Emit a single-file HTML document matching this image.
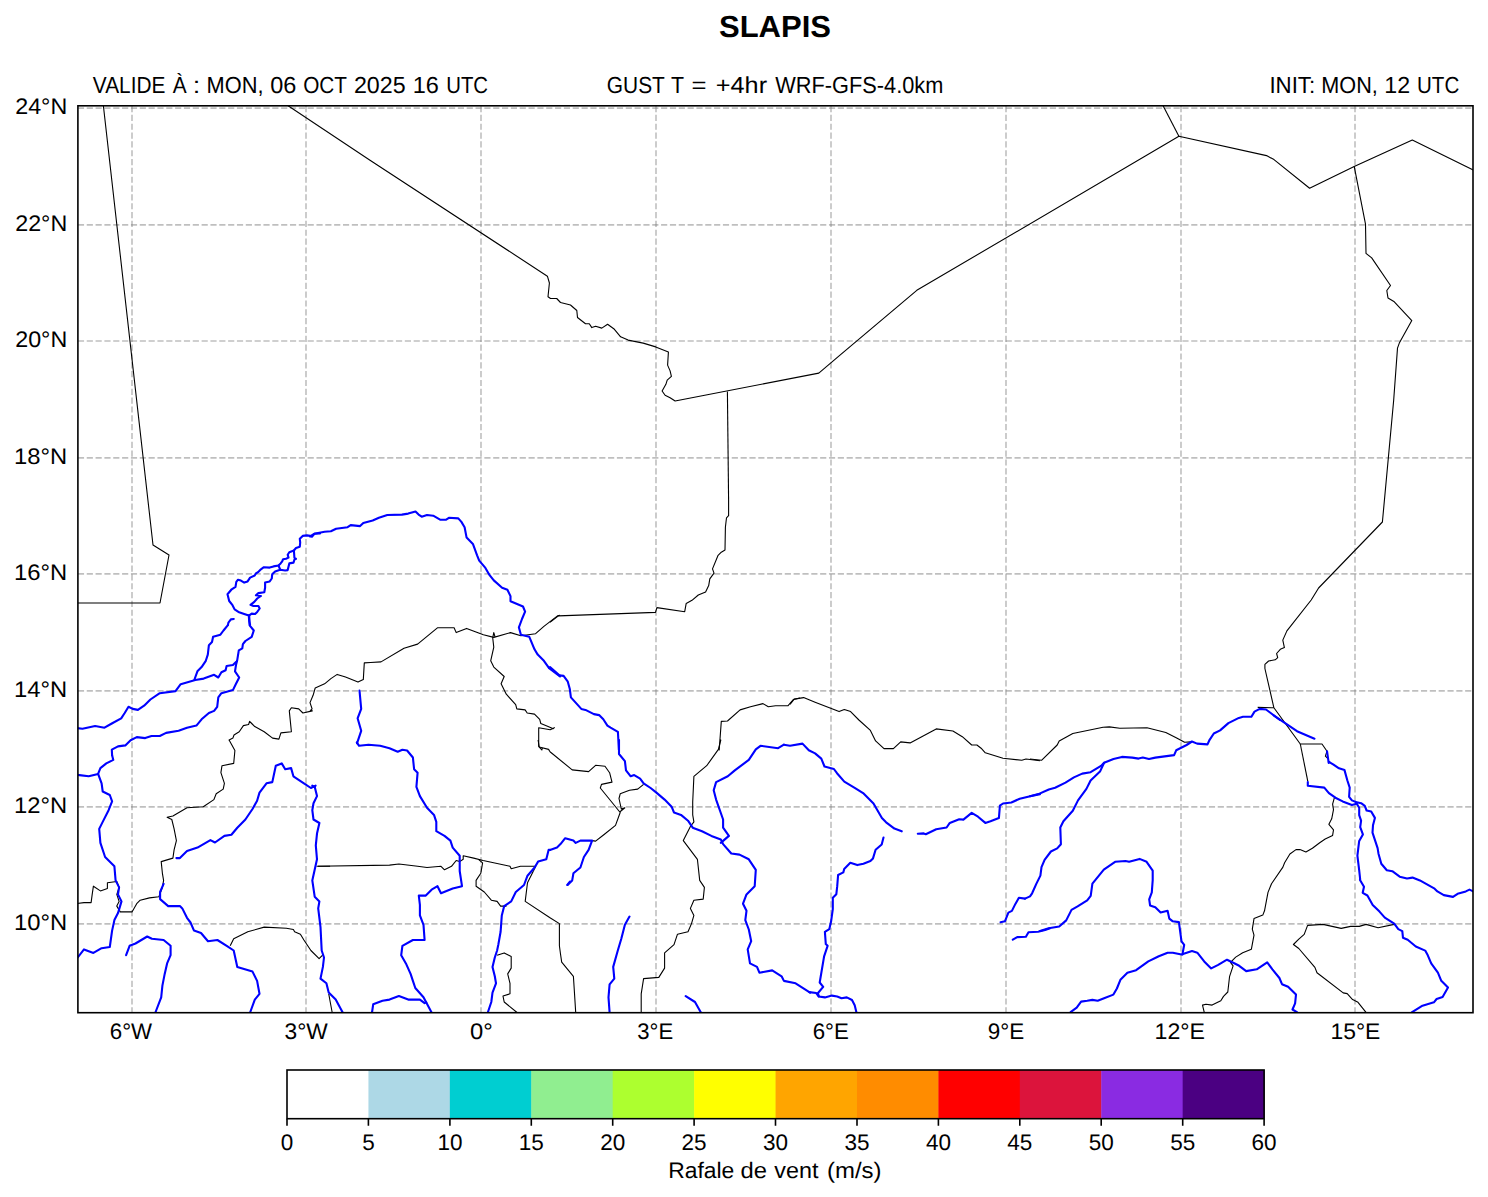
<!DOCTYPE html>
<html><head><meta charset="utf-8"><title>SLAPIS</title>
<style>html,body{margin:0;padding:0;background:#fff;width:1488px;height:1197px;overflow:hidden}</style>
</head><body>
<svg width="1488" height="1197" viewBox="0 0 1488 1197" style="display:block">
<rect width="1488" height="1197" fill="#fff"/>
<defs><clipPath id="c"><rect x="77.9" y="105.8" width="1395.1" height="906.9000000000001"/></clipPath></defs>
<g clip-path="url(#c)">
<path d="M132.00 106.0V1012.7M306.00 106.0V1012.7M481.00 106.0V1012.7M656.00 106.0V1012.7M831.00 106.0V1012.7M1006.00 106.0V1012.7M1181.00 106.0V1012.7M1355.00 106.0V1012.7" stroke="#808080" stroke-opacity="0.5" stroke-width="1.6" stroke-dasharray="6.16 2.676" fill="none"/>
<path d="M77.9 108.10H1473.0M77.9 224.90H1473.0M77.9 341.00H1473.0M77.9 457.90H1473.0M77.9 573.90H1473.0M77.9 690.90H1473.0M77.9 806.90H1473.0M77.9 923.90H1473.0" stroke="#808080" stroke-opacity="0.5" stroke-width="1.6" stroke-dasharray="6.16 2.676" fill="none"/>
<path d="M103.3,105.0 153.0,545.0 169.0,555.0 160.0,603.0 77.0,603.0" stroke="#000" stroke-width="1.1" fill="none" stroke-linejoin="round"/>
<path d="M287.0,105.0 370.0,160.2 547.4,276.2 549.4,283.0 548.0,296.7 550.5,298.5 556.7,298.5 560.5,302.5 570.5,305.0 576.8,310.5 577.5,317.5 585.5,323.8 589.3,323.8 591.8,327.6 595.6,326.3 601.8,328.1 607.6,324.3 614.4,329.3 620.6,336.8 628.1,340.1 643.2,343.1 655.7,346.9 668.4,352.1 667.6,365.1 670.1,370.9 671.4,376.4 667.2,380.1 665.9,384.3 662.1,391.0 665.1,395.2 670.1,397.7 675.1,401.0 818.8,373.1 840.0,355.1 916.8,290.3 1178.9,136.3 1266.5,155.6 1274.0,159.6 1309.6,188.2 1354.2,166.4 1412.3,140.1 1474.0,170.3" stroke="#000" stroke-width="1.1" fill="none" stroke-linejoin="round"/>
<path d="M1162.7,105.0 1178.9,136.3" stroke="#000" stroke-width="1.1" fill="none" stroke-linejoin="round"/>
<path d="M1354.2,166.4 1365.5,224.1 1366.0,253.4 1371.7,257.9 1390.5,285.5 1386.8,290.5 1388.0,298.0 1394.3,301.8 1411.8,320.6 1399.3,343.1 1397.5,348.1 1393.7,400.0 1382.4,522.0 1318.6,588.0 1311.2,600.0 1286.9,630.9 1282.8,640.1 1284.4,647.6 1280.3,649.3 1276.6,653.5 1277.7,657.6 1275.2,659.8 1268.6,661.0 1264.9,664.3 1264.9,668.5 1273.9,707.8 1300.3,744.0 1322.0,744.0 1327.0,751.2 1325.4,756.2 1327.9,758.7" stroke="#000" stroke-width="1.1" fill="none" stroke-linejoin="round"/>
<path d="M1257.7,707.4 1273.9,707.8" stroke="#000" stroke-width="1.1" fill="none" stroke-linejoin="round"/>
<path d="M1300.3,744.0 1307.8,781.3" stroke="#000" stroke-width="1.1" fill="none" stroke-linejoin="round"/>
<path d="M727.4,391.5 728.6,500.0" stroke="#000" stroke-width="1.1" fill="none" stroke-linejoin="round"/>
<path d="M311.1,709.8 312.3,710.9 302.9,713.0 298.7,708.9 291.4,707.8 289.3,710.9 291.4,731.8 280.9,732.9 278.9,739.1 272.6,738.1 264.2,731.8 254.8,726.6 251.7,723.5 249.6,721.4 248.6,724.5 243.4,725.6 239.2,731.8 234.0,735.0 232.9,738.1 228.7,740.2" stroke="#000" stroke-width="1.1" fill="none" stroke-linejoin="round"/>
<path d="M310.0,710.9 312.1,708.9 310.0,702.6 313.1,695.3 315.2,688.0 324.6,683.8 330.9,678.6 337.2,674.4 345.5,677.1 358.0,682.1 363.3,679.6 364.3,662.9 370.6,662.5 381.0,661.9 404.0,648.3 417.6,644.1 437.4,627.8 454.1,627.8 456.2,632.6 466.6,628.4 483.4,634.7 493.8,637.4 510.5,632.6 520.9,635.8 535.6,633.7 543.9,626.4 557.5,615.9 560.0,615.3" stroke="#000" stroke-width="1.1" fill="none" stroke-linejoin="round"/>
<path d="M495.1,637.1 493.8,632.6 492.7,637.8 493.8,647.2 490.7,660.8 493.8,667.1 504.2,676.5 501.1,683.8 506.3,694.2 515.7,704.7 516.8,708.9 525.1,709.9 527.2,713.0 534.5,714.1 539.7,719.3 540.8,723.5 548.1,726.6 553.3,728.7 554.4,727.7 550.2,729.7 538.7,727.7 538.7,746.4 541.8,750.0 542.4,747.8" stroke="#000" stroke-width="1.1" fill="none" stroke-linejoin="round"/>
<path d="M550.0,622.2 558.4,615.9 655.5,612.4 656.9,607.6 684.7,611.7 686.2,603.4 692.0,600.3 698.3,595.0 705.6,591.9 708.7,585.6 709.8,578.9 714.0,573.1 712.5,568.9 718.1,555.3 721.3,552.2 725.0,550.1 725.4,527.2 726.5,517.8 728.6,515.7 728.6,500.0" stroke="#000" stroke-width="1.1" fill="none" stroke-linejoin="round"/>
<path d="M718.4,749.4 719.2,750.0 721.3,721.4 727.5,721.0 740.1,709.9 750.5,706.8 763.0,703.6 768.3,706.8 775.6,705.7 788.1,705.7 793.3,699.5 800.0,698.0" stroke="#000" stroke-width="1.1" fill="none" stroke-linejoin="round"/>
<path d="M790.0,704.3 794.2,699.1 803.6,697.6 815.1,702.2 839.1,711.6 844.3,709.5 850.6,711.6 858.9,720.0 870.4,730.4 875.6,740.9 884.0,748.6 893.4,748.6 900.7,741.9 910.1,742.9 936.2,728.9 952.9,731.0 962.3,736.7 971.7,745.0 976.9,745.0 981.1,748.2 985.3,752.8 1003.0,758.2 1021.8,760.3 1026.0,759.0 1040.0,760.7" stroke="#000" stroke-width="1.1" fill="none" stroke-linejoin="round"/>
<path d="M1030.0,759.0 1041.5,760.3 1057.2,745.0 1059.2,740.9 1072.8,733.5 1103.1,727.3 1109.4,726.9 1119.8,728.3 1147.0,727.7 1165.8,732.5 1176.2,737.7 1184.6,742.3 1190.8,741.9" stroke="#000" stroke-width="1.1" fill="none" stroke-linejoin="round"/>
<path d="M1334.4,797.7 1332.6,804.1 1333.5,809.6 1331.7,818.8 1328.9,824.3 1333.5,829.8 1332.6,835.4 1325.2,839.0 1319.7,842.7 1312.4,848.2 1305.9,851.9 1300.0,849.6" stroke="#000" stroke-width="1.1" fill="none" stroke-linejoin="round"/>
<path d="M229.1,740.0 234.9,750.5 233.7,763.4 222.0,765.7 220.9,772.7 224.4,783.3 223.2,789.1 216.2,793.8 213.9,799.6 203.3,806.7 187.0,807.8 172.9,816.0 167.1,817.2 171.8,819.5 174.1,828.9 176.4,840.6 174.1,849.9 172.9,858.1 161.2,861.6 162.4,873.3 163.6,880.4 162.4,887.4 158.9,896.7 149.5,897.9 140.2,900.2 136.7,903.7 132.0,911.9 120.3,911.9 116.8,906.1 119.1,901.4 116.8,894.4 119.1,887.4 116.8,881.5 107.4,882.7 107.4,888.5 100.4,890.9 93.4,886.2 92.2,894.4 91.1,902.6 84.0,902.6 75.8,903.7" stroke="#000" stroke-width="1.1" fill="none" stroke-linejoin="round"/>
<path d="M230.2,945.8 233.7,938.8 247.8,931.8 264.2,927.1 286.4,928.3 293.4,929.5 294.6,931.8 300.4,934.2 303.9,940.0 310.9,950.5 319.1,958.7 322.6,955.2" stroke="#000" stroke-width="1.1" fill="none" stroke-linejoin="round"/>
<path d="M318.0,866.3 330.1,866.3" stroke="#000" stroke-width="1.1" fill="none" stroke-linejoin="round"/>
<path d="M318.0,866.3 317.0,866.3 389.5,865.1 398.9,864.0 417.6,866.3 427.0,867.5 441.0,866.3 444.5,869.8 451.5,866.3 456.2,860.5 459.7,861.6 463.2,859.3 463.2,855.8 473.7,858.1 483.1,860.5 510.0,866.3 511.2,868.7 520.5,866.3 535.7,866.3 533.4,871.0" stroke="#000" stroke-width="1.1" fill="none" stroke-linejoin="round"/>
<path d="M478.4,859.3 482.6,862.8 480.8,873.3 476.1,880.4 476.1,886.2 484.3,892.0 491.3,900.2 497.1,901.4 500.6,906.1 506.5,906.1" stroke="#000" stroke-width="1.1" fill="none" stroke-linejoin="round"/>
<path d="M533.4,871.0 527.5,882.7 525.2,901.4 550.0,917.8" stroke="#000" stroke-width="1.1" fill="none" stroke-linejoin="round"/>
<path d="M328.7,993.8 332.2,1012.5" stroke="#000" stroke-width="1.1" fill="none" stroke-linejoin="round"/>
<path d="M497.1,955.2 504.2,952.9 511.2,956.4 511.2,968.1 507.7,973.9 510.0,983.3 510.0,993.8 503.0,996.1 504.2,1002.0 517.0,1012.5" stroke="#000" stroke-width="1.1" fill="none" stroke-linejoin="round"/>
<path d="M538.1,740.0 539.2,747.0 548.6,749.4 550.0,751.7" stroke="#000" stroke-width="1.1" fill="none" stroke-linejoin="round"/>
<path d="M550.0,751.7 572.2,769.9 588.6,771.6 595.6,765.3 605.0,766.2 609.6,772.7 612.0,782.1 601.5,784.4 600.3,788.0 620.2,812.5 615.5,825.4 603.8,834.7 595.6,841.1 592.1,840.6" stroke="#000" stroke-width="1.1" fill="none" stroke-linejoin="round"/>
<path d="M719.9,739.9 720.8,740.0 718.4,749.4 706.7,765.7 693.9,776.3 692.7,802.0 692.7,814.9 693.9,821.9 690.4,826.5 683.3,840.6 697.4,859.3 699.7,880.4 704.4,887.4 703.2,899.1 693.9,900.2 690.4,908.4 693.9,915.4 691.5,923.6 688.0,931.8 677.5,934.2 674.0,944.7 664.6,952.9 664.6,968.1 658.8,977.4 643.6,978.6 641.2,993.8 641.2,1012.5" stroke="#000" stroke-width="1.1" fill="none" stroke-linejoin="round"/>
<path d="M643.6,784.4 637.7,789.1 629.5,790.3 620.2,793.8 619.0,798.5 621.3,809.0 624.9,807.8 619.7,812.0" stroke="#000" stroke-width="1.1" fill="none" stroke-linejoin="round"/>
<path d="M550.0,917.8 559.4,923.6 559.4,945.8 560.5,954.0 561.7,962.2 573.4,976.3 574.6,995.0 575.7,1012.5" stroke="#000" stroke-width="1.1" fill="none" stroke-linejoin="round"/>
<path d="M1300.0,849.6 1296.0,849.6 1289.9,854.0 1284.6,862.7 1282.9,867.1 1271.5,883.7 1268.0,892.4 1264.5,910.8 1262.8,915.1 1254.0,918.6 1252.3,929.1 1254.0,935.2 1251.4,949.2 1242.7,952.7 1235.7,957.1 1230.5,962.3 1233.1,965.8 1229.6,976.3 1227.8,992.0 1223.5,996.4 1220.8,1000.8 1212.1,1005.1 1206.0,1004.2 1202.5,1005.1 1204.2,1012.1" stroke="#000" stroke-width="1.1" fill="none" stroke-linejoin="round"/>
<path d="M1394.2,924.4 1378.1,927.7 1366.0,924.4 1359.3,926.4 1350.6,926.4 1341.2,928.4 1323.0,924.4 1307.6,925.4 1304.2,934.4 1298.8,939.1 1293.4,944.5 1298.8,948.5 1314.9,967.4 1317.0,972.7 1343.2,992.9 1347.2,993.6 1352.6,999.6 1358.0,1002.3 1366.0,1012.4" stroke="#000" stroke-width="1.1" fill="none" stroke-linejoin="round"/>
<path d="M1273.6,715.3 1297.0,731.2 1314.5,738.7" stroke="#0000ff" stroke-width="2.1" fill="none" stroke-linejoin="round" stroke-linecap="round"/>
<path d="M1327.0,751.2 1328.7,762.9 1329.2,762.0" stroke="#0000ff" stroke-width="2.1" fill="none" stroke-linejoin="round" stroke-linecap="round"/>
<path d="M320.0,533.4 314.4,533.8 311.9,536.7 310.2,535.9 306.9,535.4 302.7,535.9 299.8,538.8 300.2,542.5 299.8,546.7 296.0,548.0 293.9,550.5 289.3,552.2 287.7,554.7 288.5,557.6 286.0,558.8 283.1,559.3 282.2,561.3 280.6,563.4 278.5,565.5 273.5,566.4 269.7,567.6 263.9,567.2 260.9,569.3 258.0,572.2 255.9,573.5 254.7,575.5 250.1,577.6 247.6,581.4 244.2,582.6 240.9,580.6 238.0,579.7 236.3,581.8 235.5,586.8 231.7,589.3 227.5,594.3 229.2,601.0 232.5,605.2 234.6,609.4 238.4,611.9 244.2,614.0 248.8,615.6 249.2,621.1 250.1,625.0" stroke="#0000ff" stroke-width="2.1" fill="none" stroke-linejoin="round" stroke-linecap="round"/>
<path d="M293.9,550.5 294.4,557.6 296.0,558.8 294.4,559.7 293.5,562.6 289.3,563.4 287.7,570.1 285.2,570.5 280.2,569.7 275.1,571.4 272.2,574.3 271.8,578.5 269.7,581.4 265.1,582.6 265.1,587.7 264.3,592.3 258.4,593.1 255.9,595.2 260.9,596.0 257.2,598.5 254.3,601.9 250.5,604.8 253.4,606.0 258.4,606.0 259.7,608.5 257.2,611.9 255.1,614.0 251.7,613.6 248.8,615.6" stroke="#0000ff" stroke-width="2.1" fill="none" stroke-linejoin="round" stroke-linecap="round"/>
<path d="M278.5,565.5 280.2,569.7" stroke="#0000ff" stroke-width="2.1" fill="none" stroke-linejoin="round" stroke-linecap="round"/>
<path d="M233.8,619.0 230.9,619.4 228.4,622.7 227.9,625.0" stroke="#0000ff" stroke-width="2.1" fill="none" stroke-linejoin="round" stroke-linecap="round"/>
<path d="M249.2,615.3 249.6,625.3 253.8,630.5 251.7,636.8 245.4,641.0 242.9,644.1 242.3,648.3 238.8,650.4 237.1,660.8 236.0,665.0 235.0,671.3 239.2,677.5 236.0,683.8 232.9,690.1 221.4,693.2 218.3,697.4 217.2,706.8 214.1,710.9 208.9,713.0 201.6,719.3 196.4,725.6 187.0,727.7 178.6,730.8 166.1,732.9 159.8,736.0 151.5,736.0 145.2,738.1 136.8,737.1 130.6,740.2 125.3,745.4 118.0,746.4 111.8,749.6 112.1,755.2" stroke="#0000ff" stroke-width="2.1" fill="none" stroke-linejoin="round" stroke-linecap="round"/>
<path d="M227.7,625.3 223.5,630.5 220.4,634.7 213.1,636.8 212.0,642.0 208.9,645.2 207.8,654.6 205.8,660.8 201.6,667.1 197.4,671.3 194.3,680.0" stroke="#0000ff" stroke-width="2.1" fill="none" stroke-linejoin="round" stroke-linecap="round"/>
<path d="M76.3,728.1 82.5,728.7 95.1,726.0 104.5,727.7 111.8,723.5 121.2,718.3 124.7,713.0 128.5,706.8 132.7,708.9 137.9,709.9 144.1,705.7 150.4,699.5 159.8,693.2 175.5,691.1 180.7,684.2 195.3,680.0 203.7,678.6 214.1,674.8 218.3,677.5 221.4,672.3 225.6,670.2 226.6,666.0 232.9,665.0 236.0,661.9" stroke="#0000ff" stroke-width="2.1" fill="none" stroke-linejoin="round" stroke-linecap="round"/>
<path d="M310.0,536.5 314.2,533.8 324.6,531.7 330.9,531.3 336.1,528.8 347.6,527.2 350.7,525.1 360.1,526.1 363.3,523.0 372.7,520.5 378.9,517.8 387.3,515.0 401.9,514.6 408.2,513.6 415.5,511.5 418.6,514.6 421.7,516.7 427.0,515.0 433.2,515.7 440.5,519.8 445.8,519.8 448.9,517.8 458.3,518.4 461.4,521.9 464.6,527.2 466.6,537.6 472.9,543.9 477.1,555.3 479.2,560.6 485.4,567.9 489.6,575.2 493.8,580.4 502.1,587.7 507.4,589.8 510.5,596.1 510.5,601.3 523.0,606.5 525.1,611.7 522.0,619.0 518.9,627.4 520.9,634.7 529.3,636.8 534.5,649.3 537.7,654.6 543.9,660.8 549.1,668.1 560.0,676.5 560.1,675.5" stroke="#0000ff" stroke-width="2.1" fill="none" stroke-linejoin="round" stroke-linecap="round"/>
<path d="M359.5,690.5 361.2,708.9 357.6,718.3 361.2,730.8 357.0,743.3" stroke="#0000ff" stroke-width="2.1" fill="none" stroke-linejoin="round" stroke-linecap="round"/>
<path d="M548.9,667.8 550.0,667.1 559.4,675.4 563.6,675.9 567.8,681.7 569.8,689.0 570.9,697.4 581.3,708.9 585.5,709.9 593.9,714.1 599.1,715.1 603.3,719.3 607.4,725.6 610.6,727.7 617.9,731.8 618.9,750.0" stroke="#0000ff" stroke-width="2.1" fill="none" stroke-linejoin="round" stroke-linecap="round"/>
<path d="M783.9,744.7 790.0,745.7 802.5,743.6 808.8,750.3 815.1,753.4 821.3,758.6 824.5,766.5 833.9,769.0 837.0,773.2 844.3,781.6 854.7,787.8 863.1,793.1 873.5,803.5 881.9,818.1 886.1,822.3 894.4,828.6 901.7,831.3" stroke="#0000ff" stroke-width="2.1" fill="none" stroke-linejoin="round" stroke-linecap="round"/>
<path d="M917.8,833.8 923.7,833.4 925.8,834.2 936.2,829.2 946.6,827.5 949.8,822.9 959.2,819.2 963.4,819.6 971.7,812.9 978.0,816.7 985.3,822.9 990.5,821.3 998.9,818.1 999.9,805.6 1003.0,803.5 1011.4,802.5 1019.7,798.7 1030.2,796.2 1040.0,794.1" stroke="#0000ff" stroke-width="2.1" fill="none" stroke-linejoin="round" stroke-linecap="round"/>
<path d="M1030.0,796.2 1038.4,794.1 1048.8,789.5 1055.1,787.8 1065.5,782.6 1073.9,777.4 1082.2,773.6 1090.6,772.2 1101.0,765.9 1104.1,762.8 1113.5,759.0 1121.9,756.9 1132.3,757.6 1138.6,758.6 1142.8,757.6 1149.0,759.0 1155.3,757.6 1174.1,755.1 1176.2,750.3 1186.6,745.0 1191.9,741.5 1197.1,743.6 1207.5,744.4 1209.6,739.8 1213.8,733.5 1220.1,730.4 1228.4,723.1 1238.9,717.9 1243.0,716.8 1251.4,716.8 1254.5,711.6 1259.7,708.9 1266.0,709.5 1280.0,720.0" stroke="#0000ff" stroke-width="2.1" fill="none" stroke-linejoin="round" stroke-linecap="round"/>
<path d="M1104.1,762.8 1100.0,771.6 1090.6,780.5 1086.4,788.9 1078.0,800.4 1072.8,810.8 1063.4,821.3 1060.3,827.5 1060.9,844.2 1057.2,848.4 1050.9,851.5 1044.6,859.9 1041.5,867.2 1040.4,875.6 1036.3,883.9 1032.1,893.3 1030.0,896.4 1025.0,898.6" stroke="#0000ff" stroke-width="2.1" fill="none" stroke-linejoin="round" stroke-linecap="round"/>
<path d="M1328.9,761.8 1333.5,764.6 1339.0,768.3 1344.5,770.1 1347.3,780.2 1349.7,787.6 1349.1,796.8 1351.9,800.4 1355.6,801.9 1361.1,803.2 1364.8,805.9 1366.6,810.5 1371.2,811.5 1374.9,817.9 1373.0,825.2 1372.5,832.6 1377.6,848.2 1378.5,853.7 1381.3,863.8 1386.8,870.3 1392.3,871.2 1399.7,876.7 1407.0,878.5 1412.5,877.6 1419.9,880.4 1434.6,888.7 1437.4,891.4 1443.8,895.1 1453.0,896.9 1457.6,893.8 1465.8,891.4 1469.5,889.6 1473.2,891.4" stroke="#0000ff" stroke-width="2.1" fill="none" stroke-linejoin="round" stroke-linecap="round"/>
<path d="M1355.6,801.9 1359.2,807.8 1359.2,815.1 1361.1,820.7 1360.2,827.1 1362.9,834.4 1359.2,840.9 1358.3,848.2 1357.4,855.6 1359.2,870.3 1360.2,879.5" stroke="#0000ff" stroke-width="2.1" fill="none" stroke-linejoin="round" stroke-linecap="round"/>
<path d="M1307.8,782.1 1307.8,785.7 1324.3,787.6 1328.9,793.1 1335.4,797.7 1342.7,801.4 1351.9,805.0 1355.6,804.1 1356.6,803.5" stroke="#0000ff" stroke-width="2.1" fill="none" stroke-linejoin="round" stroke-linecap="round"/>
<path d="M112.1,755.2 113.3,759.9 106.3,763.4 100.4,768.1 98.1,773.9 101.6,783.3 102.7,791.5 109.8,795.0 112.1,801.3 108.6,810.2 102.7,821.9 99.2,828.9 100.4,842.9 105.1,857.0 114.4,866.3 115.6,880.4 119.1,887.4 118.0,894.4 121.5,901.4 118.0,913.1 114.4,920.1 112.1,930.6 109.8,947.0 101.6,948.2 93.4,952.9 84.0,949.4 75.8,959.9" stroke="#0000ff" stroke-width="2.1" fill="none" stroke-linejoin="round" stroke-linecap="round"/>
<path d="M98.1,773.9 88.7,776.3 79.4,775.1 75.8,774.6" stroke="#0000ff" stroke-width="2.1" fill="none" stroke-linejoin="round" stroke-linecap="round"/>
<path d="M176.4,858.1 179.9,858.1 187.0,851.1 197.5,847.6 210.4,840.1 215.0,842.5 224.4,835.9 231.4,834.7 237.3,827.7 245.4,819.5 252.5,809.0 257.1,800.8 259.5,792.6 266.5,783.3 272.3,782.1 275.8,765.7 281.7,763.4 285.2,769.2 291.1,768.1 293.4,776.3 303.9,783.3 310.9,788.0 315.6,785.6 314.7,786.8" stroke="#0000ff" stroke-width="2.1" fill="none" stroke-linejoin="round" stroke-linecap="round"/>
<path d="M163.6,883.9 160.1,892.0 160.1,899.1 168.2,906.1 179.9,906.1 182.3,908.4 187.0,917.8 190.5,922.5 194.0,930.6 201.0,933.0 208.0,941.2 217.4,940.0 226.7,945.8 233.7,950.5 237.3,966.9 252.5,971.6 257.1,980.9 259.5,993.8 254.8,999.6 250.1,1012.5" stroke="#0000ff" stroke-width="2.1" fill="none" stroke-linejoin="round" stroke-linecap="round"/>
<path d="M126.1,955.2 129.6,945.8 135.5,943.5 147.2,936.5 151.9,938.8 163.6,940.0 170.6,945.8 170.6,955.2 167.1,963.4 164.7,973.9 162.4,985.6 161.2,997.3 155.4,1012.5" stroke="#0000ff" stroke-width="2.1" fill="none" stroke-linejoin="round" stroke-linecap="round"/>
<path d="M356.8,742.3 359.1,745.8 368.5,744.7 380.2,745.8 389.5,748.2 397.7,751.7 402.4,749.8 407.1,750.5 412.9,757.5 414.1,769.2 417.6,772.7 416.4,786.8 419.9,796.1 427.0,807.8 434.0,814.9 436.3,821.9 436.3,831.2 444.5,835.9 450.4,840.6 452.7,847.6 459.7,855.8 459.7,871.0 462.0,886.2 452.7,888.5 441.0,893.2 437.5,886.2 431.6,889.7 425.8,895.6 418.8,895.6 419.9,904.9 419.9,915.4 423.5,924.8 424.6,940.0 412.9,940.0 402.4,945.8 401.2,955.2 405.9,963.4 410.6,973.9 412.9,980.9 415.3,988.0 423.5,997.3 431.6,1012.5" stroke="#0000ff" stroke-width="2.1" fill="none" stroke-linejoin="round" stroke-linecap="round"/>
<path d="M313.0,786.9 312.3,785.6 314.7,786.8 317.0,796.1 313.5,803.2 312.3,810.2 313.5,819.5 319.4,823.0 317.0,833.6 315.8,845.3 317.0,859.3 312.3,880.4 314.7,896.7 319.4,901.4 318.2,908.4 320.5,927.1 321.7,950.5 324.0,957.5 322.9,966.9 320.5,978.6 326.4,983.3 328.7,992.6 335.7,999.6 342.7,1012.5" stroke="#0000ff" stroke-width="2.1" fill="none" stroke-linejoin="round" stroke-linecap="round"/>
<path d="M550.0,849.9 548.6,849.9 546.3,859.3 538.1,861.6 534.6,867.5 527.5,875.7 524.0,885.0 515.8,892.0 511.2,901.4 504.2,906.1 501.8,915.4 500.6,931.8 498.3,944.7 497.1,950.5 494.8,957.5 492.5,966.9 494.8,976.3 496.0,983.3 492.5,992.6 491.3,1002.0 487.8,1012.5" stroke="#0000ff" stroke-width="2.1" fill="none" stroke-linejoin="round" stroke-linecap="round"/>
<path d="M372.0,1012.5 373.2,1004.3 382.5,1000.8 389.5,999.6 398.9,996.1 408.2,999.6 419.9,999.6 424.6,1003.2 426.2,1002.3" stroke="#0000ff" stroke-width="2.1" fill="none" stroke-linejoin="round" stroke-linecap="round"/>
<path d="M567.3,885.0 570.1,881.5" stroke="#0000ff" stroke-width="2.1" fill="none" stroke-linejoin="round" stroke-linecap="round"/>
<path d="M619.0,740.0 619.0,754.0 624.9,761.1 626.0,770.4 630.7,776.3 634.2,775.1 640.1,778.6 643.6,783.3 650.6,788.0 656.4,792.6 664.6,799.6 671.6,806.7 674.0,812.5 681.0,814.9 688.0,820.7 692.7,827.7 702.0,831.2 711.4,835.9 720.8,839.4 723.1,844.1 731.3,853.5 739.5,854.6 748.8,859.3 755.8,869.8 754.7,886.2 746.5,894.4 743.0,903.7 746.5,910.8 745.3,920.1 748.8,929.5 751.2,941.2 747.7,949.4 750.0,963.4 757.0,966.9 759.4,972.7 772.2,970.4 781.6,976.3 783.9,980.9 795.6,983.3 810.1,992.6" stroke="#0000ff" stroke-width="2.1" fill="none" stroke-linejoin="round" stroke-linecap="round"/>
<path d="M783.9,744.7 778.1,748.2 760.5,745.8 755.8,749.4 748.8,759.9 734.8,770.4 727.8,776.3 716.1,782.1 713.7,790.3 716.1,799.6 723.1,819.5 723.1,827.7 728.9,835.9 720.8,842.9 722.2,842.2" stroke="#0000ff" stroke-width="2.1" fill="none" stroke-linejoin="round" stroke-linecap="round"/>
<path d="M550.0,849.9 557.0,847.6 560.5,844.1 565.2,838.2 573.4,840.6 575.7,842.9 580.4,840.6 592.1,840.6 588.6,849.9 583.9,857.0 580.4,867.5 573.4,873.3 572.2,880.4 567.5,885.0" stroke="#0000ff" stroke-width="2.1" fill="none" stroke-linejoin="round" stroke-linecap="round"/>
<path d="M629.5,916.6 624.9,924.8 621.3,938.8 617.8,950.5 613.2,966.9 614.3,978.6 609.6,984.4 608.5,997.3 609.6,1012.5" stroke="#0000ff" stroke-width="2.1" fill="none" stroke-linejoin="round" stroke-linecap="round"/>
<path d="M685.7,996.1 695.0,1002.0 700.9,1012.5" stroke="#0000ff" stroke-width="2.1" fill="none" stroke-linejoin="round" stroke-linecap="round"/>
<path d="M883.5,837.5 881.7,844.5 875.6,849.7 873.0,858.4 870.4,861.1 863.4,863.7 857.3,865.1 850.3,862.8 844.2,868.9 843.3,872.4 838.1,875.0 837.2,886.4 836.3,894.3 832.8,897.8 832.8,909.1 831.1,921.3 829.3,929.2 824.9,931.8 825.8,944.1 827.6,945.8 824.1,956.3 819.7,982.5 823.2,986.9 818.0,993.0 818.8,996.5 824.9,997.4 831.9,995.6 837.2,996.5 841.5,998.2 846.8,997.4 852.0,1000.0 854.7,1005.2 856.4,1012.2" stroke="#0000ff" stroke-width="2.1" fill="none" stroke-linejoin="round" stroke-linecap="round"/>
<path d="M809.2,992.1 816.2,993.0 818.8,996.5" stroke="#0000ff" stroke-width="2.1" fill="none" stroke-linejoin="round" stroke-linecap="round"/>
<path d="M1025.0,898.6 1018.9,897.8 1015.4,903.9 1011.9,910.9 1008.4,912.6 1004.9,921.3 1000.6,922.2" stroke="#0000ff" stroke-width="2.1" fill="none" stroke-linejoin="round" stroke-linecap="round"/>
<path d="M1012.8,939.7 1017.2,937.1 1025.9,936.7 1028.5,932.2 1038.1,931.8 1045.1,930.1 1050.0,928.3" stroke="#0000ff" stroke-width="2.1" fill="none" stroke-linejoin="round" stroke-linecap="round"/>
<path d="M1040.0,930.9 1048.7,928.2 1059.2,926.5 1066.2,920.4 1071.5,909.9 1077.6,906.4 1087.2,900.3 1090.7,895.9 1092.4,883.7 1103.8,869.7 1115.1,861.8 1125.6,861.0 1129.1,861.8 1139.6,858.9 1146.6,861.8 1152.7,870.6 1152.7,880.2 1151.8,892.4 1149.2,899.4 1150.1,905.5 1155.3,907.3 1160.6,912.5 1167.6,910.8 1169.3,918.6 1172.8,921.3 1178.9,922.1 1181.5,941.3 1184.2,944.8 1182.4,954.5" stroke="#0000ff" stroke-width="2.1" fill="none" stroke-linejoin="round" stroke-linecap="round"/>
<path d="M1070.6,1012.1 1076.7,1007.7 1081.1,1001.6 1087.2,1000.8 1092.4,999.9 1097.7,1000.8 1104.7,998.1 1113.4,994.6 1116.9,988.5 1120.4,979.8 1127.4,972.8 1136.1,970.2 1139.6,967.6 1148.3,961.4 1158.8,956.2 1167.6,952.7 1172.8,952.7 1181.5,954.5 1192.0,951.0 1197.3,952.7 1204.2,961.4 1211.2,968.4 1218.2,964.9 1227.0,959.7 1232.2,962.3 1239.2,965.8 1246.2,971.1 1256.7,969.3 1267.2,962.3 1272.4,969.3 1279.4,978.0 1282.0,984.2 1288.1,986.8 1296.0,994.6 1295.1,1003.4 1292.5,1009.5 1296.9,1012.1" stroke="#0000ff" stroke-width="2.1" fill="none" stroke-linejoin="round" stroke-linecap="round"/>
<path d="M1360.0,880.0 1364.0,886.7 1362.7,892.8 1367.4,895.5 1372.7,904.9 1379.5,911.6 1384.8,917.6 1394.2,923.7 1398.3,929.1 1402.3,931.1 1403.0,937.8 1407.7,939.8 1415.8,946.5 1425.2,950.6 1427.8,955.3 1431.2,963.3 1437.9,972.7 1441.3,980.8 1448.0,987.5 1442.6,996.9 1436.6,999.0 1433.9,1002.3 1422.5,1005.7 1411.7,1012.4" stroke="#0000ff" stroke-width="2.1" fill="none" stroke-linejoin="round" stroke-linecap="round"/>
</g>
<rect x="77.9" y="105.8" width="1395.1" height="906.9" fill="none" stroke="#000" stroke-width="1.6"/>
<g font-family="Liberation Sans, sans-serif" text-rendering="geometricPrecision" fill="#000">
<text x="775" y="36.9" font-size="30.5" text-anchor="middle" font-weight="bold" textLength="112" lengthAdjust="spacingAndGlyphs">SLAPIS</text>
<text x="92.80" y="93.2" font-size="23.2" textLength="72.59" lengthAdjust="spacingAndGlyphs">VALIDE</text>
<text x="172.80" y="93.2" font-size="23.2" textLength="13.92" lengthAdjust="spacingAndGlyphs">À</text>
<text x="192.77" y="93.2" font-size="23.2" textLength="7.53" lengthAdjust="spacingAndGlyphs">:</text>
<text x="206.62" y="93.2" font-size="23.2" textLength="56.94" lengthAdjust="spacingAndGlyphs">MON,</text>
<text x="270.29" y="93.2" font-size="23.2" textLength="26.12" lengthAdjust="spacingAndGlyphs">06</text>
<text x="303.20" y="93.2" font-size="23.2" textLength="43.85" lengthAdjust="spacingAndGlyphs">OCT</text>
<text x="353.90" y="93.2" font-size="23.2" textLength="51.70" lengthAdjust="spacingAndGlyphs">2025</text>
<text x="412.77" y="93.2" font-size="23.2" textLength="26.13" lengthAdjust="spacingAndGlyphs">16</text>
<text x="446.24" y="93.2" font-size="23.2" textLength="41.83" lengthAdjust="spacingAndGlyphs">UTC</text>
<text x="1269.38" y="93.2" font-size="23.2" textLength="45.83" lengthAdjust="spacingAndGlyphs">INIT:</text>
<text x="1321.33" y="93.2" font-size="23.2" textLength="56.51" lengthAdjust="spacingAndGlyphs">MON,</text>
<text x="1384.30" y="93.2" font-size="23.2" textLength="25.80" lengthAdjust="spacingAndGlyphs">12</text>
<text x="1417.03" y="93.2" font-size="23.2" textLength="42.26" lengthAdjust="spacingAndGlyphs">UTC</text>
<text x="606.80" y="93.2" font-size="23.2" textLength="58.08" lengthAdjust="spacingAndGlyphs">GUST</text>
<text x="671.00" y="93.2" font-size="23.2" textLength="13.06" lengthAdjust="spacingAndGlyphs">T</text>
<text x="691.59" y="93.2" font-size="23.2" textLength="15.01" lengthAdjust="spacingAndGlyphs">=</text>
<text x="715.81" y="93.2" font-size="23.2" textLength="51.26" lengthAdjust="spacingAndGlyphs">+4hr</text>
<text x="775.30" y="93.2" font-size="23.2" textLength="167.98" lengthAdjust="spacingAndGlyphs">WRF-GFS-4.0km</text>
<text x="14.14" y="929.9" font-size="22.5" textLength="53.12" lengthAdjust="spacingAndGlyphs">10°N</text>
<text x="14.14" y="812.9" font-size="22.5" textLength="53.12" lengthAdjust="spacingAndGlyphs">12°N</text>
<text x="14.14" y="696.9" font-size="22.5" textLength="53.12" lengthAdjust="spacingAndGlyphs">14°N</text>
<text x="14.14" y="579.9" font-size="22.5" textLength="53.12" lengthAdjust="spacingAndGlyphs">16°N</text>
<text x="14.14" y="463.9" font-size="22.5" textLength="53.12" lengthAdjust="spacingAndGlyphs">18°N</text>
<text x="15.22" y="347.0" font-size="22.5" textLength="52.01" lengthAdjust="spacingAndGlyphs">20°N</text>
<text x="15.22" y="230.9" font-size="22.5" textLength="52.01" lengthAdjust="spacingAndGlyphs">22°N</text>
<text x="15.22" y="114.1" font-size="22.5" textLength="52.01" lengthAdjust="spacingAndGlyphs">24°N</text>
<text x="109.81" y="1039.0" font-size="22.5" textLength="42.34" lengthAdjust="spacingAndGlyphs">6°W</text>
<text x="284.49" y="1039.0" font-size="22.5" textLength="43.26" lengthAdjust="spacingAndGlyphs">3°W</text>
<text x="469.94" y="1039.0" font-size="22.5" textLength="22.76" lengthAdjust="spacingAndGlyphs">0°</text>
<text x="637.32" y="1039.0" font-size="22.5" textLength="35.80" lengthAdjust="spacingAndGlyphs">3°E</text>
<text x="812.71" y="1039.0" font-size="22.5" textLength="36.11" lengthAdjust="spacingAndGlyphs">6°E</text>
<text x="987.70" y="1039.0" font-size="22.5" textLength="36.43" lengthAdjust="spacingAndGlyphs">9°E</text>
<text x="1154.64" y="1039.0" font-size="22.5" textLength="50.43" lengthAdjust="spacingAndGlyphs">12°E</text>
<text x="1330.57" y="1039.0" font-size="22.5" textLength="49.79" lengthAdjust="spacingAndGlyphs">15°E</text>
</g>
<rect x="287.00" y="1070.0" width="81.83" height="48.7" fill="#ffffff"/>
<rect x="368.43" y="1070.0" width="81.83" height="48.7" fill="#add8e6"/>
<rect x="449.85" y="1070.0" width="81.83" height="48.7" fill="#00ced1"/>
<rect x="531.27" y="1070.0" width="81.83" height="48.7" fill="#90ee90"/>
<rect x="612.70" y="1070.0" width="81.83" height="48.7" fill="#adff2f"/>
<rect x="694.12" y="1070.0" width="81.83" height="48.7" fill="#ffff00"/>
<rect x="775.55" y="1070.0" width="81.83" height="48.7" fill="#ffa500"/>
<rect x="856.98" y="1070.0" width="81.83" height="48.7" fill="#ff8c00"/>
<rect x="938.40" y="1070.0" width="81.83" height="48.7" fill="#ff0000"/>
<rect x="1019.82" y="1070.0" width="81.83" height="48.7" fill="#dc143c"/>
<rect x="1101.25" y="1070.0" width="81.83" height="48.7" fill="#8a2be2"/>
<rect x="1182.67" y="1070.0" width="81.83" height="48.7" fill="#4b0082"/>
<rect x="287.0" y="1070.0" width="977.1" height="48.7" fill="none" stroke="#000" stroke-width="1.6"/>
<path d="M287.0 1118.7v7M368.4 1118.7v7M449.9 1118.7v7M531.3 1118.7v7M612.7 1118.7v7M694.1 1118.7v7M775.5 1118.7v7M857.0 1118.7v7M938.4 1118.7v7M1019.8 1118.7v7M1101.2 1118.7v7M1182.7 1118.7v7M1264.1 1118.7v7" stroke="#000" stroke-width="1.6"/>
<g font-family="Liberation Sans, sans-serif" text-rendering="geometricPrecision" fill="#000">
<text x="287.0" y="1150.2" font-size="22.5" text-anchor="middle" font-weight="normal">0</text>
<text x="368.4" y="1150.2" font-size="22.5" text-anchor="middle" font-weight="normal">5</text>
<text x="449.9" y="1150.2" font-size="22.5" text-anchor="middle" font-weight="normal">10</text>
<text x="531.3" y="1150.2" font-size="22.5" text-anchor="middle" font-weight="normal">15</text>
<text x="612.7" y="1150.2" font-size="22.5" text-anchor="middle" font-weight="normal">20</text>
<text x="694.1" y="1150.2" font-size="22.5" text-anchor="middle" font-weight="normal">25</text>
<text x="775.5" y="1150.2" font-size="22.5" text-anchor="middle" font-weight="normal">30</text>
<text x="857.0" y="1150.2" font-size="22.5" text-anchor="middle" font-weight="normal">35</text>
<text x="938.4" y="1150.2" font-size="22.5" text-anchor="middle" font-weight="normal">40</text>
<text x="1019.8" y="1150.2" font-size="22.5" text-anchor="middle" font-weight="normal">45</text>
<text x="1101.2" y="1150.2" font-size="22.5" text-anchor="middle" font-weight="normal">50</text>
<text x="1182.7" y="1150.2" font-size="22.5" text-anchor="middle" font-weight="normal">55</text>
<text x="1264.1" y="1150.2" font-size="22.5" text-anchor="middle" font-weight="normal">60</text>
<text x="668.17" y="1177.9" font-size="22.5" textLength="66.10" lengthAdjust="spacingAndGlyphs">Rafale</text>
<text x="740.54" y="1177.9" font-size="22.5" textLength="26.45" lengthAdjust="spacingAndGlyphs">de</text>
<text x="774.30" y="1177.9" font-size="22.5" textLength="44.11" lengthAdjust="spacingAndGlyphs">vent</text>
<text x="827.04" y="1177.9" font-size="22.5" textLength="54.48" lengthAdjust="spacingAndGlyphs">(m/s)</text>
</g>
</svg>
</body></html>
